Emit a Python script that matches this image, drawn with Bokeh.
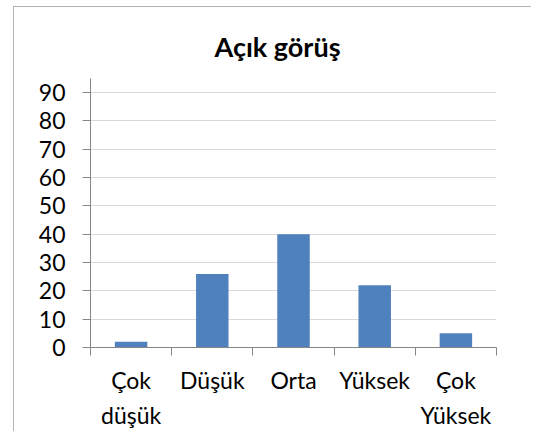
from bokeh.plotting import figure
from bokeh.models import Range1d, FixedTicker
from bokeh.embed import file_html
from bokeh.resources import INLINE

# Data
categories = ["Çok\ndüşük", "Düşük", "Orta", "Yüksek", "Çok\nYüksek"]
values = [2, 26, 40, 22, 5]
y_ticks = [0, 10, 20, 30, 40, 50, 60, 70, 80, 90]
title_text = "Açık görüş"

positions = [i + 0.5 for i in range(len(categories))]
boundaries = list(range(len(categories) + 1))

FONT = "Lato"
AXIS_COLOR = "#868686"

p = figure(width=518, height=425, output_backend="svg", toolbar_location=None,
           x_range=Range1d(0, len(categories)), y_range=Range1d(0, 95),
           min_border_left=76, min_border_right=36, min_border_top=71, min_border_bottom=85,
           title=title_text)
p.styles = {"margin-left": "13px", "margin-top": "6px",
            "border-left": "1px solid #b4b4b4", "border-top": "1px solid #b4b4b4"}
p.outline_line_color = None
p.background_fill_color = "white"
p.border_fill_color = "white"

p.title.align = "left"
p.title.offset = 124
p.title.standoff = 31
p.title.text_font = FONT
p.title.text_font_style = "bold"
p.title.text_font_size = "27px"
p.title.text_color = "black"

p.vbar(x=positions, top=values, width=0.4, bottom=0, fill_color="#4F81BD", line_color=None)

# y axis
p.yaxis.ticker = FixedTicker(ticks=y_ticks)
p.yaxis.axis_line_color = AXIS_COLOR
p.yaxis.major_tick_line_color = AXIS_COLOR
p.yaxis.major_tick_in = 0
p.yaxis.major_tick_out = 8
p.yaxis.minor_tick_line_color = None
p.yaxis.major_label_text_font = FONT
p.yaxis.major_label_text_font_size = "23px"
p.yaxis.major_label_text_color = "black"
p.yaxis.major_label_standoff = 17

# x axis
p.xaxis.ticker = FixedTicker(ticks=positions, minor_ticks=boundaries)
p.xaxis.major_label_overrides = {pos: lab for pos, lab in zip(positions, categories)}
p.xaxis.axis_line_color = AXIS_COLOR
p.xaxis.major_tick_line_color = None
p.xaxis.major_tick_in = 0
p.xaxis.major_tick_out = 8
p.xaxis.minor_tick_line_color = AXIS_COLOR
p.xaxis.minor_tick_in = 0
p.xaxis.minor_tick_out = 8
p.xaxis.major_label_text_font = FONT
p.xaxis.major_label_text_font_size = "23px"
p.xaxis.major_label_text_line_height = 1.25
p.xaxis.major_label_text_color = "black"
p.xaxis.major_label_standoff = 10

p.xgrid.grid_line_color = None
p.ygrid.ticker = FixedTicker(ticks=y_ticks)
p.ygrid.grid_line_color = "#D9D9D9"

open("out.html", "w").write(file_html(p, INLINE))
